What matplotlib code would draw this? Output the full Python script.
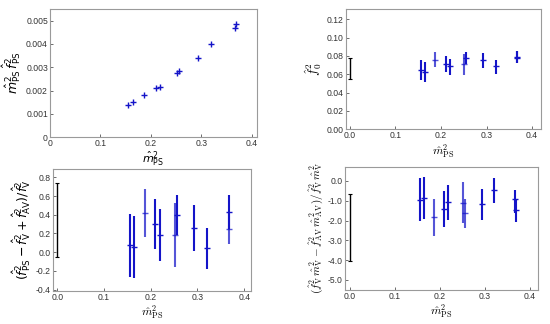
import numpy as np
import matplotlib
matplotlib.use('Agg')
import matplotlib.pyplot as plt

plt.rcParams['font.family'] = ['Liberation Sans', 'DejaVu Sans']

# x values shared by every panel (m_PS^2)
m_ps2 = [0.155, 0.164, 0.187, 0.210, 0.219, 0.251, 0.256, 0.293, 0.320, 0.367, 0.368]

# top left: m_PS^2 f_PS^2
mf_ps = [0.00139, 0.00151, 0.00181, 0.00212, 0.00217, 0.00274, 0.00284, 0.00338, 0.00398, 0.00467, 0.00484]

# top right: f_0^2 (central value, lower, upper)
f0_val = [0.065, 0.0627, 0.076, 0.0714, 0.0689, 0.0707, 0.0772, 0.0754, 0.0689, 0.079, 0.078]
f0_lo = [0.0536, 0.0515, 0.0675, 0.062, 0.0594, 0.0587, 0.0707, 0.067, 0.060, 0.0725, 0.0725]
f0_hi = [0.076, 0.073, 0.0845, 0.080, 0.0768, 0.082, 0.0845, 0.0834, 0.076, 0.0849, 0.0849]
f0_band = [0.055, 0.078]

# bottom left: (f_PS^2 - f_V^2 + f_AV^2)/f_V^2
s1_val = [0.077, 0.06, 0.42, 0.30, 0.18, 0.18, 0.40, 0.26, 0.04, 0.43, 0.25]
s1_lo = [-0.26, -0.28, 0.16, 0.03, -0.09, -0.16, 0.18, 0.01, -0.18, 0.25, 0.09]
s1_hi = [0.41, 0.39, 0.675, 0.57, 0.46, 0.53, 0.61, 0.50, 0.26, 0.61, 0.43]
s1_band = [-0.048, 0.742]

# bottom right: (f_V^2 m_V^2 - f_AV^2 m_AV^2)/f_V^2 m_V^2
s2_val = [-0.94, -0.87, -1.83, -1.40, -1.08, -1.10, -1.63, -1.18, -0.47, -0.92, -1.48]
s2_lo = [-2.02, -1.93, -2.78, -2.31, -1.97, -2.14, -2.39, -1.97, -1.10, -1.60, -2.09]
s2_hi = [0.14, 0.20, -0.92, -0.50, -0.20, -0.07, -0.92, -0.42, 0.15, -0.45, -0.90]
s2_band = [-4.05, -0.66]

light = [2, 5]
blue = '#1414c8'
frame = '#9a9a9a'

fig = plt.figure(figsize=(5.5, 3.24), dpi=100)
ax1 = fig.add_axes([0.0909, 0.577, 0.376, 0.395])
ax2 = fig.add_axes([0.6285, 0.601, 0.3545, 0.371])
ax3 = fig.add_axes([0.0964, 0.1019, 0.3595, 0.3775])
ax4 = fig.add_axes([0.627, 0.1059, 0.3515, 0.3796])


def style(ax):
    for s in ax.spines.values():
        s.set_color(frame)
        s.set_linewidth(0.8)
    ax.tick_params(direction='in', length=2.5, width=0.6, color='#555555',
                   labelsize=6.2, labelcolor='#333333', top=False, right=False, pad=1.5)


def bars(ax, val, lo, hi, band, extra_light=()):
    for i, x in enumerate(m_ps2):
        a = 0.72 if (i in light or i in extra_light) else 1.0
        ax.errorbar([x], [val[i]], yerr=[[val[i] - lo[i]], [hi[i] - val[i]]],
                    fmt='_', color=blue, ms=4, mew=1.0, elinewidth=1.5, alpha=a)
    mid = (band[0] + band[1]) / 2
    ax.errorbar([0.0], [mid], yerr=[[mid - band[0]], [band[1] - mid]],
                fmt='none', ecolor='black', elinewidth=1.0, capsize=1.5, capthick=0.8)


# top left
ax1.plot(m_ps2, mf_ps, '+', color=blue, ms=5, mew=1.0)
ax1.set_xlim(0, 0.41)
ax1.set_ylim(0, 0.0055)
ax1.set_xticks([0, 0.1, 0.2, 0.3, 0.4])
ax1.set_xticklabels(['0', '0.1', '0.2', '0.3', '0.4'])
ax1.set_yticks([0, 0.001, 0.002, 0.003, 0.004, 0.005])
ax1.set_yticklabels(['0', '0.001', '0.002', '0.003', '0.004', '0.005'])
ax1.set_xlabel(r'$\hat{m}^2_{\rm PS}$', fontsize=8, labelpad=1.5, math_fontfamily='dejavusans')
ax1.set_ylabel(r'$\hat{m}^2_{\rm PS}\,\hat{f}^2_{\rm PS}$', fontsize=9, labelpad=2,
               math_fontfamily='dejavusans')
style(ax1)

# top right
bars(ax2, f0_val, f0_lo, f0_hi, f0_band)
ax2.set_xlim(-0.0095, 0.419)
ax2.set_ylim(0, 0.131)
ax2.set_xticks([0, 0.1, 0.2, 0.3, 0.4])
ax2.set_xticklabels(['0.0', '0.1', '0.2', '0.3', '0.4'])
ax2.set_yticks(np.arange(0, 0.121, 0.02))
ax2.set_yticklabels(['0.00', '0.02', '0.04', '0.06', '0.08', '0.10', '0.12'])
ax2.set_xlabel(r'$\hat{m}^2_{\rm PS}$', fontsize=8.5, labelpad=1, math_fontfamily='cm')
ax2.set_ylabel(r'$\hat{f}^2_0$', fontsize=9.5, labelpad=2, math_fontfamily='cm')
style(ax2)

# bottom left
bars(ax3, s1_val, s1_lo, s1_hi, s1_band, extra_light=(10,))
ax3.set_xlim(-0.0092, 0.414)
ax3.set_ylim(-0.414, 0.892)
ax3.set_xticks([0, 0.1, 0.2, 0.3, 0.4])
ax3.set_xticklabels(['0.0', '0.1', '0.2', '0.3', '0.4'])
ax3.set_yticks(np.arange(-0.4, 0.81, 0.2))
ax3.set_yticklabels(['-0.4', '-0.2', '0.0', '0.2', '0.4', '0.6', '0.8'])
ax3.set_xlabel(r'$\hat{m}^2_{\rm PS}$', fontsize=8.5, labelpad=1, math_fontfamily='cm')
ax3.set_ylabel(r'$(\hat{f}^2_{\rm PS}-\hat{f}^2_{\rm V}+\hat{f}^2_{\rm AV})/\hat{f}^2_{\rm V}$',
               fontsize=9, labelpad=2, math_fontfamily='dejavusans')
style(ax3)

# bottom right
bars(ax4, s2_val, s2_lo, s2_hi, s2_band, extra_light=(6,))
ax4.set_xlim(-0.011, 0.418)
ax4.set_ylim(-5.49, 0.72)
ax4.set_xticks([0, 0.1, 0.2, 0.3, 0.4])
ax4.set_xticklabels(['0.0', '0.1', '0.2', '0.3', '0.4'])
ax4.set_yticks(np.arange(-5, 0.1, 1))
ax4.set_yticklabels(['-5.0', '-4.0', '-3.0', '-2.0', '-1.0', '0.0'])
ax4.set_xlabel(r'$\hat{m}^2_{\rm PS}$', fontsize=8.5, labelpad=1, math_fontfamily='cm')
ax4.set_ylabel(r'$(\hat{f}^2_{\rm V}\,\hat{m}^2_{\rm V}-\hat{f}^2_{\rm AV}\,\hat{m}^2_{\rm AV})/\hat{f}^2_{\rm V}\,\hat{m}^2_{\rm V}$',
               fontsize=8, labelpad=2, math_fontfamily='cm')
style(ax4)

fig.savefig('out.png', dpi=100)
